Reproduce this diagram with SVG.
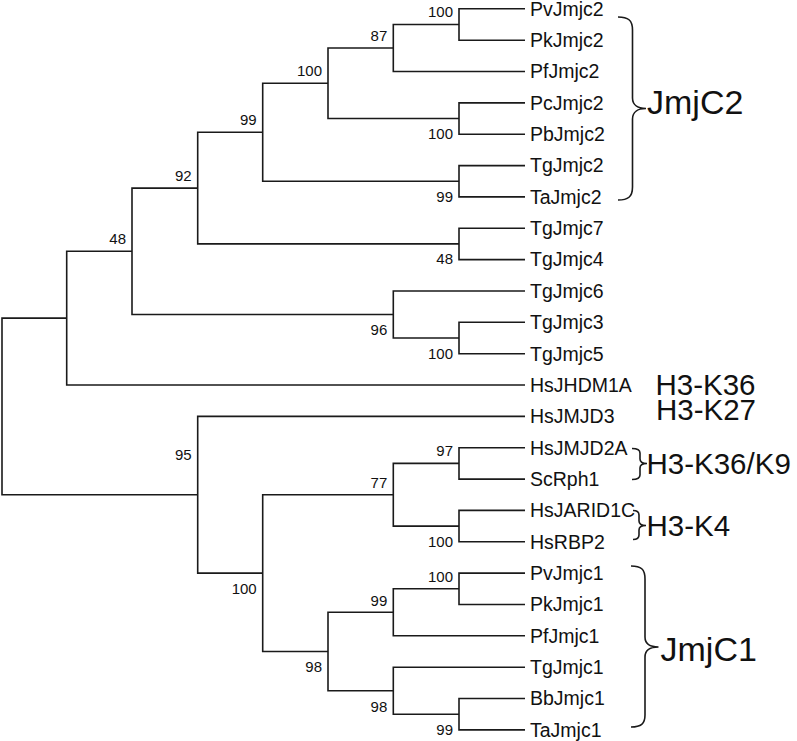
<svg xmlns="http://www.w3.org/2000/svg" width="797" height="741" viewBox="0 0 797 741">
<style>
.br{fill:none;stroke:#1a1a1a;stroke-width:1.6}
.bc{fill:none;stroke:#1a1a1a;stroke-width:1.6}
.lf{font-family:"Liberation Sans",Arial,sans-serif;font-size:19.5px;fill:#111}
.bs{font-family:"Liberation Sans",Arial,sans-serif;font-size:15px;fill:#111;text-anchor:end}
.gl{font-family:"Liberation Sans",Arial,sans-serif;font-size:34px;fill:#111}
.hl{font-family:"Liberation Sans",Arial,sans-serif;font-size:29.5px;fill:#111}
</style>
<rect width="797" height="741" fill="#fff"/>
<g id="connectors">
<path class="br" d="M66.7,318.1 H2 V494.7 H197.7"/>
<path class="br" d="M132,251.3 H66.7 V385 H525"/>
<path class="br" d="M197.7,188.1 H132 V314.5 H393.3"/>
<path class="br" d="M262.7,132.2 H197.7 V243.9 H459"/>
<path class="br" d="M328,83.3 H262.7 V181.2 H459"/>
<path class="br" d="M393.3,48 H328 V118.5 H459"/>
<path class="br" d="M459,24.5 H393.3 V71.5 H525"/>
<path class="br" d="M525,8.8 H459 V40.2 H525"/>
<path class="br" d="M525,102.9 H459 V134.2 H525"/>
<path class="br" d="M525,165.6 H459 V196.9 H525"/>
<path class="br" d="M525,228.3 H459 V259.6 H525"/>
<path class="br" d="M525,291 H393.3 V338 H459"/>
<path class="br" d="M525,322.3 H459 V353.7 H525"/>
<path class="br" d="M525,416.4 H197.7 V573.1 H262.7"/>
<path class="br" d="M393.3,494.7 H262.7 V651.5 H328"/>
<path class="br" d="M459,463.4 H393.3 V526.1 H459"/>
<path class="br" d="M525,447.7 H459 V479.1 H525"/>
<path class="br" d="M525,510.4 H459 V541.8 H525"/>
<path class="br" d="M393.3,612.3 H328 V690.7 H393.3"/>
<path class="br" d="M459,588.8 H393.3 V635.8 H525"/>
<path class="br" d="M525,573.1 H459 V604.5 H525"/>
<path class="br" d="M525,667.2 H393.3 V714.2 H459"/>
<path class="br" d="M525,698.5 H459 V729.9 H525"/>
</g>
<g id="leaves">
<g id="leaf-PvJmjc2"><text class="lf" x="530" y="15.8">PvJmjc2</text></g>
<g id="leaf-PkJmjc2"><text class="lf" x="530" y="47">PkJmjc2</text></g>
<g id="leaf-PfJmjc2"><text class="lf" x="530" y="78.3">PfJmjc2</text></g>
<g id="leaf-PcJmjc2"><text class="lf" x="530" y="109.7">PcJmjc2</text></g>
<g id="leaf-PbJmjc2"><text class="lf" x="530" y="141">PbJmjc2</text></g>
<g id="leaf-TgJmjc2"><text class="lf" x="530" y="172.4">TgJmjc2</text></g>
<g id="leaf-TaJmjc2"><text class="lf" x="530" y="203.7">TaJmjc2</text></g>
<g id="leaf-TgJmjc7"><text class="lf" x="530" y="235.1">TgJmjc7</text></g>
<g id="leaf-TgJmjc4"><text class="lf" x="530" y="266.4">TgJmjc4</text></g>
<g id="leaf-TgJmjc6"><text class="lf" x="530" y="297.8">TgJmjc6</text></g>
<g id="leaf-TgJmjc3"><text class="lf" x="530" y="329.1">TgJmjc3</text></g>
<g id="leaf-TgJmjc5"><text class="lf" x="530" y="360.5">TgJmjc5</text></g>
<g id="leaf-HsJHDM1A"><text class="lf" x="530" y="391.8">HsJHDM1A</text></g>
<g id="leaf-HsJMJD3"><text class="lf" x="530" y="423.2">HsJMJD3</text></g>
<g id="leaf-HsJMJD2A"><text class="lf" x="530" y="454.5">HsJMJD2A</text></g>
<g id="leaf-ScRph1"><text class="lf" x="530" y="485.9">ScRph1</text></g>
<g id="leaf-HsJARID1C"><text class="lf" x="530" y="517.2">HsJARID1C</text></g>
<g id="leaf-HsRBP2"><text class="lf" x="530" y="548.6">HsRBP2</text></g>
<g id="leaf-PvJmjc1"><text class="lf" x="530" y="579.9">PvJmjc1</text></g>
<g id="leaf-PkJmjc1"><text class="lf" x="530" y="611.3">PkJmjc1</text></g>
<g id="leaf-PfJmjc1"><text class="lf" x="530" y="642.6">PfJmjc1</text></g>
<g id="leaf-TgJmjc1"><text class="lf" x="530" y="674">TgJmjc1</text></g>
<g id="leaf-BbJmjc1"><text class="lf" x="530" y="705.3">BbJmjc1</text></g>
<g id="leaf-TaJmjc1"><text class="lf" x="530" y="736.7">TaJmjc1</text></g>
</g>
<g id="bootstrap">
<g id="node-G"><text class="bs" x="453" y="17">100</text></g>
<g id="node-F"><text class="bs" x="387.3" y="40.5">87</text></g>
<g id="node-E"><text class="bs" x="322" y="76">100</text></g>
<g id="node-D"><text class="bs" x="256.7" y="125">99</text></g>
<g id="node-C"><text class="bs" x="191.7" y="181">92</text></g>
<g id="node-B"><text class="bs" x="126" y="244">48</text></g>
<g id="node-H"><text class="bs" x="453" y="139">100</text></g>
<g id="node-I"><text class="bs" x="453" y="201.7">99</text></g>
<g id="node-J"><text class="bs" x="453" y="264.4">48</text></g>
<g id="node-K"><text class="bs" x="387.3" y="335">96</text></g>
<g id="node-L"><text class="bs" x="453" y="358.5">100</text></g>
<g id="node-P"><text class="bs" x="453" y="456">97</text></g>
<g id="node-O"><text class="bs" x="387.3" y="487.5">77</text></g>
<g id="node-Q"><text class="bs" x="453" y="546.6">100</text></g>
<g id="node-M"><text class="bs" x="191.7" y="460">95</text></g>
<g id="node-N"><text class="bs" x="256.7" y="594">100</text></g>
<g id="node-T"><text class="bs" x="453" y="582">100</text></g>
<g id="node-S"><text class="bs" x="387.3" y="605.5">99</text></g>
<g id="node-R"><text class="bs" x="322" y="672">98</text></g>
<g id="node-U"><text class="bs" x="387.3" y="711.5">98</text></g>
<g id="node-V"><text class="bs" x="453" y="735">99</text></g>
</g>
<g id="group-JmjC2">
<path class="bc" d="M618,17 C628,17 632.5,20 632.5,30 V98 C632.5,105 638,108.5 646,108.5 C638,108.5 632.5,112 632.5,119 V187 C632.5,197 628,200 618,200"/>
<text class="gl" x="647" y="113.5">JmjC2</text>
</g>
<g id="group-H3K36"><text class="hl" x="655.5" y="394.5">H3-K36</text></g>
<g id="group-H3K27"><text class="hl" x="656" y="419.5">H3-K27</text></g>
<g id="group-H3K36K9">
<path class="bc" d="M632,448.5 C638,448.5 640,450 640,453 V459 C640,462 642,463.5 647,463.5 C642,463.5 640,465 640,468 V475 C640,478 638,479.5 632,479.5"/>
<text class="hl" x="646.5" y="473.5">H3-K36/K9</text>
</g>
<g id="group-H3K4">
<path class="bc" d="M633,510.5 C637,510.5 639,512 639,515 V521 C639,524 641,525.5 646,525.5 C641,525.5 639,527 639,530 V535 C639,538 637,539.5 633,539.5"/>
<text class="hl" x="646.5" y="536">H3-K4</text>
</g>
<g id="group-JmjC1">
<path class="bc" d="M631,566 C641,566 645,569 645,579 V637 C645,644 650,647 658.5,647 C650,647 645,650 645,657 V715 C645,724 641,727 631,727"/>
<text class="gl" x="660.5" y="661">JmjC1</text>
</g>
</svg>
